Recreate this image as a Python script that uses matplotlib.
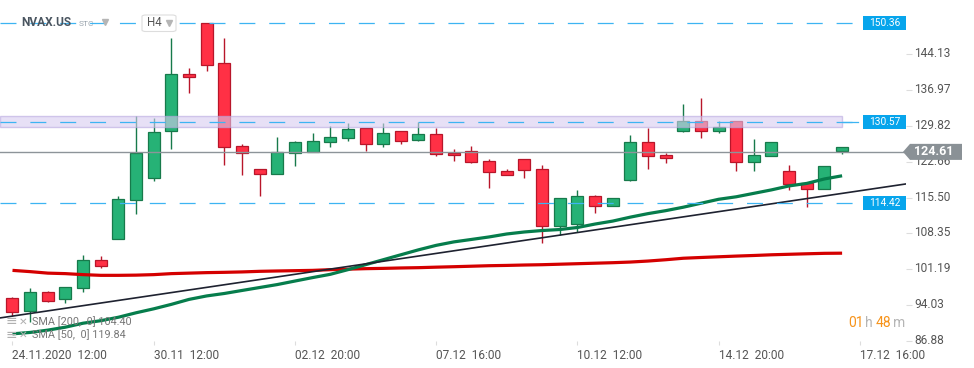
import matplotlib
matplotlib.use("Agg")
import matplotlib.pyplot as plt
from matplotlib.patches import Rectangle, Polygon, FancyBboxPatch
from matplotlib.transforms import ScaledTranslation

plt.rcParams['font.family'] = ['Roboto', 'DejaVu Sans']
plt.rcParams['lines.scale_dashes'] = False

# H4 candles, NVAX.US
opens = [95.51, 92.94, 96.70, 95.32, 97.49, 103.09, 107.18, 115.02, 119.31, 128.74,
         140.21, 150.30, 142.25, 125.83, 121.23, 120.24, 124.39, 124.59, 126.57, 127.36,
         129.34, 126.17, 128.74, 126.96, 128.15, 124.39, 124.79, 122.81, 120.83, 123.20,
         121.23, 109.75, 110.15, 115.89, 113.91, 119.05, 126.57, 124.00, 128.74, 130.72,
         128.74, 130.72, 122.61, 123.80, 120.83, 118.46, 117.27, 124.79]
highs = [95.60, 97.55, 96.90, 97.75, 104.02, 103.82, 115.89, 131.77, 131.37, 147.39,
         141.26, 150.36, 147.39, 126.17, 121.23, 127.67, 126.88, 128.35, 129.73, 130.32,
         129.34, 130.38, 128.74, 130.52, 129.34, 125.18, 125.83, 123.20, 121.29, 123.20,
         122.02, 115.49, 116.93, 116.08, 115.49, 127.95, 129.43, 124.45, 134.14, 135.33,
         130.72, 130.72, 127.16, 126.57, 122.02, 118.46, 121.82, 125.58]
lows = [91.95, 90.63, 94.58, 94.39, 96.62, 101.37, 107.18, 112.25, 118.77, 125.10,
        136.38, 140.73, 121.94, 119.96, 115.89, 120.24, 121.74, 124.59, 125.50, 126.76,
        124.71, 125.50, 126.17, 126.76, 123.72, 122.73, 122.33, 117.39, 120.04, 119.37,
        106.39, 107.97, 108.57, 112.44, 113.91, 118.77, 121.23, 122.41, 128.54, 127.36,
        128.35, 120.83, 120.83, 123.80, 116.99, 113.63, 117.27, 124.19]
closes = [92.67, 96.70, 94.92, 97.75, 103.03, 101.84, 115.29, 124.45, 128.54, 140.21,
          139.62, 141.99, 125.58, 124.39, 120.24, 124.59, 126.57, 126.76, 127.56, 129.14,
          126.17, 128.35, 126.76, 128.15, 124.19, 124.00, 122.61, 120.63, 120.04, 121.03,
          109.75, 115.49, 115.89, 113.91, 115.49, 126.57, 123.80, 123.40, 130.72, 128.74,
          129.53, 122.61, 124.00, 126.57, 118.26, 117.27, 121.82, 125.58]

sma50 = [88.31, 88.59, 89.05, 89.64, 90.43, 90.93, 91.62, 92.51, 93.30, 94.19,
         95.18, 95.87, 96.36, 96.96, 97.55, 98.14, 98.84, 99.53, 100.18, 101.11,
         102.10, 103.09, 104.08, 105.07, 105.96, 106.65, 107.14, 107.64, 108.23, 108.63,
         108.92, 109.12, 109.52, 110.21, 110.80, 111.59, 112.29, 112.88, 113.57, 114.36,
         115.15, 115.65, 116.34, 117.03, 117.82, 118.32, 119.21, 119.84]
sma200 = [100.97, 100.72, 100.42, 100.32, 100.12, 99.98, 99.98, 100.02, 100.12, 100.32,
          100.42, 100.52, 100.58, 100.66, 100.78, 100.85, 100.91, 100.97, 101.11, 101.21,
          101.31, 101.37, 101.45, 101.51, 101.61, 101.70, 101.80, 101.90, 101.96, 102.04,
          102.10, 102.20, 102.30, 102.40, 102.50, 102.63, 102.83, 103.09, 103.39, 103.54,
          103.68, 103.82, 103.94, 104.08, 104.18, 104.28, 104.37, 104.40]

trend_pts = [(0, 91.85), (47, 116.33)]
levels = [150.36, 130.57, 114.42]
band = (129.53, 131.71)
last_price = 124.61

y_ticks = [86.88, 94.03, 101.19, 108.35, 115.50, 122.66, 129.82, 136.97, 144.13]
x_tick_idx = [0, 8, 16, 24, 32, 40, 48]
x_tick_labels = ["24.11.2020  12:00", "30.11  12:00", "02.12  20:00", "07.12  16:00",
                 "10.12  12:00", "14.12  20:00", "17.12  16:00"]

GREEN, GREEN_EDGE = "#26b276", "#177a4b"
RED, RED_EDGE = "#ff3045", "#b8162a"
LEVEL = "#3db4f2"
BOX = "#07a5ec"

W, H = 974, 368


def px(x, y):
    return x / W, 1 - y / H


fig = plt.figure(figsize=(W / 100, H / 100), dpi=100)
fig.patch.set_facecolor("white")
ax = fig.add_axes([0, 27 / H, 906 / W, 341 / H])
ax.set_xlim(-0.708, 50.62)
ax.set_ylim(87.47, 154.91)
for s in ax.spines.values():
    s.set_visible(False)

n = len(opens)
idx = list(range(n))

# candles
for i in idx:
    o, h, l, c = opens[i], highs[i], lows[i], closes[i]
    up = c >= o
    ax.vlines(i, l, h, color=GREEN_EDGE if up else RED_EDGE, lw=1, zorder=3)
    ax.bar(i, max(abs(c - o), 0.2), bottom=min(o, c), width=0.68,
           color=GREEN if up else RED, edgecolor=GREEN_EDGE if up else RED_EDGE,
           linewidth=0.9, zorder=4)

# zone
ax.add_patch(Rectangle((-0.708, band[0]), 47.708, band[1] - band[0],
                       facecolor="#d8ccf0", edgecolor="#b8a8e0", alpha=0.6, lw=1, zorder=5))

# moving averages + trendline
ax.plot(idx, sma200, color="#d40000", lw=2.3, zorder=6, solid_capstyle="butt")
ax.plot(idx, sma50, color="#067d4c", lw=2.3, zorder=6, solid_capstyle="butt")
ax.axline(trend_pts[0], trend_pts[1], color="#1e2230", lw=1.2, zorder=6)

# price levels
ytr = ax.get_yaxis_transform()
for lv in levels:
    ax.plot([0, 858 / 906], [lv, lv], transform=ytr, color=LEVEL, lw=0.9,
            dashes=(11.5, 10), zorder=7)
    ax.add_patch(Rectangle((863 / 906, lv - 1.4), 43 / 906, 2.8, transform=ytr,
                           facecolor=BOX, edgecolor="none", zorder=9, clip_on=False))
    ax.text(884.5 / 906, lv, "%.2f" % lv, transform=ytr, ha="center", va="center",
            color="white", fontsize=7.3, zorder=10, clip_on=False)
ax.plot([843 / 906, 858 / 906], [levels[1]] * 2, transform=ytr, color=LEVEL, lw=0.9, zorder=7)

# last price
ax.axhline(last_price, color="#8d9499", lw=1, zorder=7)
ax.add_patch(Polygon([(903 / 906, last_price), (910 / 906, last_price + 1.6),
                      (962 / 906, last_price + 1.6), (962 / 906, last_price - 1.6),
                      (910 / 906, last_price - 1.6)], closed=True, transform=ytr,
                     facecolor="#8a9196", edgecolor="none", zorder=11, clip_on=False))
ax.text(934 / 906, last_price, "%.2f" % last_price, transform=ytr, ha="center",
        va="center", color="white", fontsize=9, fontweight="bold", zorder=12, clip_on=False)

# axes ticks
ax.yaxis.tick_right()
ax.set_yticks(y_ticks)
ax.set_yticklabels(["%.2f" % v for v in y_ticks])
ax.tick_params(axis="y", length=4, width=0.8, color="#dddddd", labelcolor="#555555",
               labelsize=8.6, pad=2)
shift_up = ScaledTranslation(0, 2 / 100, fig.dpi_scale_trans)
for lab in ax.get_yticklabels():
    lab.set_transform(lab.get_transform() + shift_up)
ax.set_xticks(x_tick_idx)
ax.set_xticklabels(x_tick_labels)
for lab in ax.get_xticklabels():
    lab.set_ha("left")
ax.tick_params(axis="x", length=3, width=0.8, color="#dddddd", labelcolor="#555555",
               labelsize=8.6, pad=3)

# header
fig.text(*px(21, 23), "NVAX.US", fontsize=8.6, fontweight="bold", color="#4a5560",
         va="center", ha="left", zorder=20)
fig.text(*px(79, 24), "STC", fontsize=6, color="#9aa4ad", va="center", ha="left", zorder=20)
fig.lines.append(plt.Line2D([105 / W], [1 - 22 / H], marker="v", ms=5, color="#b5b5b5",
                            transform=fig.transFigure, ls="none"))
x0, y0 = px(142, 31.5)
fig.patches.append(FancyBboxPatch((x0, y0), 34 / W, 16.5 / H, boxstyle="round,pad=0,rounding_size=0.004",
                                  transform=fig.transFigure, facecolor="white",
                                  edgecolor="#dddddd", lw=0.8, zorder=15))
fig.text(*px(147, 23), "H4", fontsize=8.3, color="#555555", va="center", ha="left", zorder=20)
fig.lines.append(plt.Line2D([168.5 / W], [1 - 23 / H], marker="v", ms=4.5, color="#b5b5b5",
                            transform=fig.transFigure, ls="none", zorder=21))

# indicator legend
for yy, txt in [(321.5, "SMA [200,  0] 104.40"), (335, "SMA [50,  0] 119.84")]:
    fig.text(*px(6, yy), "\u2261", fontsize=10, color="#b0b0b0", va="center", ha="left",
             family=["DejaVu Sans"])
    fig.text(*px(19, yy), "\u2715", fontsize=7.5, color="#b0b0b0", va="center", ha="left",
             family=["DejaVu Sans"])
    fig.text(*px(31.5, yy), txt, fontsize=7.8, color="#777777", va="center", ha="left")

# countdown
for xx, t, col in [(848, "01", "#f7931a"), (864.5, "h", "#b5b5b5"),
                   (876, "48", "#f7931a"), (893.5, "m", "#b5b5b5")]:
    fig.text(*px(xx, 323), t, fontsize=10, color=col, va="center", ha="left")

fig.savefig("out.png", dpi=100)
